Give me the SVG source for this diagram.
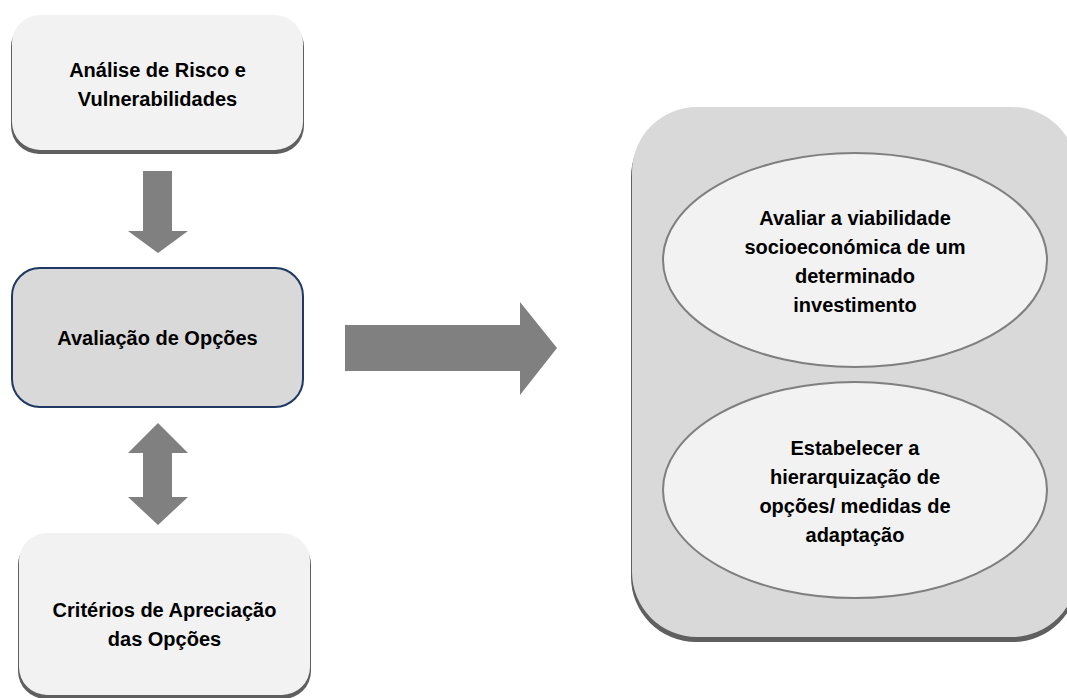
<svg xmlns="http://www.w3.org/2000/svg" width="1067" height="698" viewBox="0 0 1067 698">
  <style>
    .label { font-family: "Liberation Sans", Arial, sans-serif; font-weight: bold; font-size: 20px; fill: #000; text-anchor: middle; }
    .shadow { fill: #5f5f5f; }
    .light { fill: #f2f2f2; }
    .mid { fill: #d9d9d9; stroke: #1f3864; stroke-width: 2; }
    .panel { fill: #d9d9d9; }
    .oval { fill: #f2f2f2; stroke: #7f7f7f; stroke-width: 2; }
    .arrow { fill: #808080; }
  </style>
  <rect width="1067" height="698" fill="#ffffff"/>

  <!-- connectors -->
  <g id="connectors">
    <polygon class="arrow" points="143,171 172,171 172,231 188,231 158,253 128,231 143,231"/>
    <polygon class="arrow" points="158,423 188,453 172,453 172,497 188,497 158,525 128,497 143,497 143,453 128,453"/>
    <polygon class="arrow" points="345,325 520,325 520,302 557,348 520,395 520,371 345,371"/>
  </g>

  <!-- left column -->
  <g id="risk-analysis">
    <rect class="shadow" x="11" y="19" width="293" height="135" rx="28"/>
    <rect class="light" x="12" y="15" width="291" height="135" rx="28"/>
    <text class="label" x="157.5" y="77">Análise de Risco e</text>
    <text class="label" x="157.5" y="106">Vulnerabilidades</text>
  </g>

  <g id="options-evaluation">
    <rect class="mid" x="12" y="268" width="291" height="139" rx="28"/>
    <text class="label" x="157.5" y="345">Avaliação de Opções</text>
  </g>

  <g id="criteria">
    <rect class="shadow" x="18" y="537" width="293" height="162" rx="28"/>
    <rect class="light" x="19" y="533" width="291" height="162" rx="28"/>
    <text class="label" x="164.5" y="617">Critérios de Apreciação</text>
    <text class="label" x="164.5" y="646">das Opções</text>
  </g>

  <!-- right panel -->
  <g id="objectives">
    <rect class="shadow" x="631" y="112" width="447" height="530" rx="65"/>
    <rect class="panel" x="632" y="107" width="445" height="530" rx="65"/>
  </g>

  <g id="viability">
    <ellipse class="oval" cx="855" cy="260" rx="192" ry="107"/>
    <text class="label" x="855" y="225">Avaliar a viabilidade</text>
    <text class="label" x="855" y="254">socioeconómica de um</text>
    <text class="label" x="855" y="283">determinado</text>
    <text class="label" x="855" y="312">investimento</text>
  </g>

  <g id="ranking">
    <ellipse class="oval" cx="855" cy="490" rx="192" ry="108"/>
    <text class="label" x="855" y="455">Estabelecer a</text>
    <text class="label" x="855" y="484">hierarquização de</text>
    <text class="label" x="855" y="513">opções/ medidas de</text>
    <text class="label" x="855" y="542">adaptação</text>
  </g>
</svg>
